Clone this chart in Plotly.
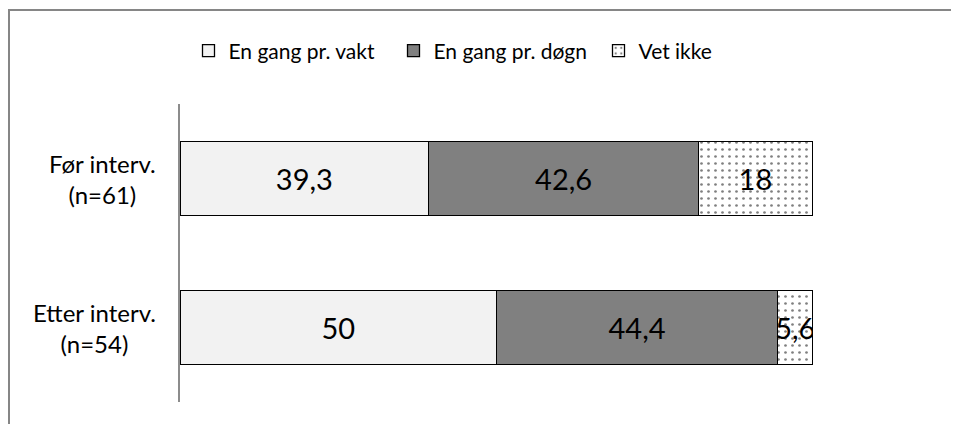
import plotly.graph_objects as go

categories = ["Før interv.<br>(n=61)", "Etter interv.<br>(n=54)"]
series_names = ["En gang pr. vakt", "En gang pr. døgn", "Vet ikke"]
vakt = [39.3, 50]
dogn = [42.6, 44.4]
vet_ikke = [18, 5.6]

def fmt(v):
    return ("%g" % v).replace(".", ",")

FONT = "Lato"
# page offset (body margin 8px) accounted for in sizes
W, H = 951, 416
L, R, T, B = 172, 146, 96, 22
PW = W - L - R
PH = H - T - B

fig = go.Figure()
styles = [
    dict(color="#F2F2F2"),
    dict(color="#808080"),
    dict(color="white", pattern=dict(shape=".", fgcolor="black", bgcolor="white", size=7, solidity=0.12)),
]
for name, vals, st in zip(series_names, [vakt, dogn, vet_ikke], styles):
    fig.add_trace(go.Bar(
        y=categories, x=vals, name=name, orientation="h",
        marker=dict(line=dict(color="black", width=1.3), **st),
        text=[fmt(v) for v in vals], textposition="inside",
        insidetextanchor="middle", textangle=0,
        textfont=dict(family=FONT, size=29, color="black"),
        width=0.5,
    ))

for c in categories:
    fig.add_annotation(x=(158 - 180) / PW, xref="paper", xanchor="right",
                       y=c, yref="y", text=c,
                       showarrow=False, align="center",
                       font=dict(family=FONT, size=24, color="black"))

fig.add_shape(type="rect", xref="paper", yref="paper",
              x0=(1 - L) / PW, x1=(W + 20 - L) / PW,
              y0=-0.2, y1=1 + (T - 2) / PH,
              line=dict(color="#868686", width=2), layer="below")

fig.update_layout(
    width=W, height=H,
    margin=dict(l=L, r=R, t=T, b=B),
    paper_bgcolor="white", plot_bgcolor="white",
    barmode="stack",
    uniformtext=dict(minsize=29, mode="show"),
    showlegend=True,
    legend=dict(orientation="h", x=(496 - 180) / PW, xanchor="center",
                y=1 + (104 - 51) / PH, yanchor="middle",
                entrywidth=160, entrywidthmode="pixels",
                font=dict(family=FONT, size=21, color="black"), traceorder="normal"),
    xaxis=dict(range=[0, 100], visible=False, fixedrange=True),
    yaxis=dict(autorange=False, range=[1.5, -0.5], showticklabels=False, showline=True,
               linecolor="#8C8C8C", linewidth=2, ticks="", showgrid=False,
               zeroline=False),
    font=dict(family=FONT),
)
fig.write_html("out.html")
